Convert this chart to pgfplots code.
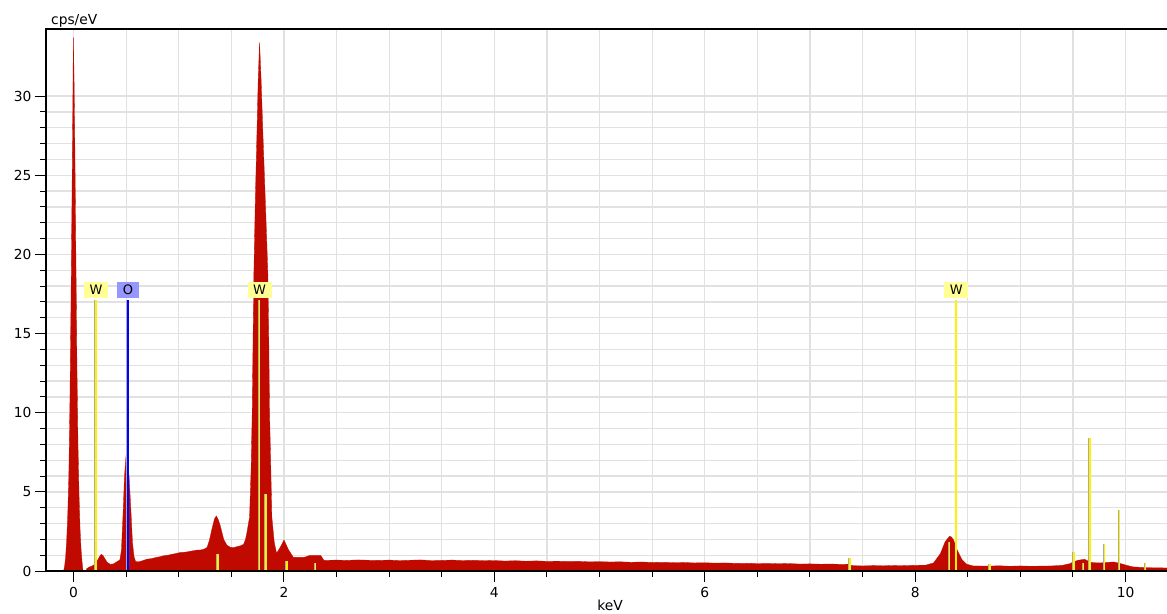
\documentclass[border=0pt]{standalone}
\usepackage{pgfplots}
\pgfplotsset{compat=1.18}
\usepackage{fontspec}
\setmainfont{DejaVu Sans}
\definecolor{specred}{RGB}{192,10,0}
\definecolor{gridgray}{RGB}{225,225,225}
\definecolor{wbox}{RGB}{255,255,150}
\definecolor{obox}{RGB}{150,150,255}
\definecolor{shadow}{RGB}{170,170,170}
\begin{document}
\begin{tikzpicture}
\path[use as bounding box, clip] (0,0) rectangle (1167pt,613pt);
\begin{axis}[
  at={(46pt,42pt)}, anchor=south west,
  scale only axis, width=1125pt, height=542pt,
  xmin=-0.262, xmax=10.432, ymin=0, ymax=34.24,
  xtick={0,2,4,6,8,10}, minor x tick num=3,
  ytick={0,5,10,15,20,25,30}, minor y tick num=4,
  tick pos=left, tick align=outside,
  major tick length=11pt, minor tick length=6pt,
  every tick/.style={black, line width=1pt},
  grid=both,
  major grid style={draw=gridgray, line width=1.3pt},
  minor grid style={draw=gridgray, line width=1.3pt},
  axis line style={black, line width=1.6pt},
  /pgf/number format/assume math mode=true,
  tick label style={font=\fontsize{13.8}{16}\selectfont},
  xticklabel style={yshift=-1.5pt},
  clip=false,
]
\addplot[fill=specred, draw=specred, line width=0.3pt] coordinates {
(-0.095,0) (-0.085,0.3) (-0.075,0.9) (-0.065,2.0) (-0.055,3.6) (-0.045,6.0)
(-0.035,10.5) (-0.025,16.5) (-0.015,23.5) (-0.007,29.5) (-0.002,33.7)
(0.004,31.5) (0.012,27) (0.022,20) (0.032,13) (0.042,8) (0.052,4.8)
(0.062,2.6) (0.072,1.3) (0.082,0.5) (0.09,0)
(0.118,0) (0.125,0.15) (0.15,0.25) (0.18,0.33) (0.2,0.42) (0.23,0.7)
(0.25,0.95) (0.263,1.05) (0.28,0.98) (0.3,0.75) (0.32,0.55) (0.35,0.42)
(0.38,0.45) (0.41,0.58) (0.44,0.7) (0.455,1.3) (0.472,3.85) (0.484,5.96)
(0.495,7.0) (0.501,7.4) (0.51,6.9) (0.528,5.96) (0.545,3.85) (0.56,1.8)
(0.575,0.9) (0.59,0.6) (0.62,0.58) (0.66,0.66) (0.70,0.75) (0.74,0.78)
(0.78,0.85) (0.82,0.9) (0.855,0.96) (0.9,1.0) (0.93,1.05) (0.97,1.1)
(1.014,1.17) (1.05,1.18) (1.09,1.22) (1.13,1.27) (1.173,1.32) (1.21,1.33)
(1.24,1.38) (1.268,1.48) (1.29,1.9) (1.315,2.64) (1.34,3.3) (1.357,3.48)
(1.375,3.25) (1.395,2.85) (1.427,2.0) (1.458,1.63) (1.49,1.5) (1.521,1.48)
(1.56,1.55) (1.59,1.6) (1.616,1.69) (1.635,2.0) (1.648,2.43) (1.66,2.9)
(1.673,3.4) (1.688,6.5) (1.698,10.0) (1.706,14.5) (1.714,18.8) (1.728,23.5)
(1.743,27.6) (1.755,31) (1.768,33.4) (1.783,31) (1.800,27.6) (1.825,23)
(1.847,18.8) (1.856,14.5) (1.863,10.0) (1.875,6.5) (1.885,3.4) (1.908,1.8)
(1.93,1.12) (1.965,1.5) (2.0,1.96) (2.044,1.33) (2.09,0.86) (2.19,0.86)
(2.24,0.97) (2.35,0.97) (2.38,0.67)
(2.5,0.69) (2.6,0.67) (2.7,0.70) (2.8,0.68) (2.9,0.67) (3.0,0.69) (3.1,0.66)
(3.2,0.68) (3.3,0.70) (3.4,0.66) (3.5,0.67) (3.6,0.69) (3.7,0.66) (3.8,0.68)
(3.9,0.65) (4.0,0.66) (4.1,0.63) (4.2,0.65) (4.3,0.62) (4.4,0.64) (4.5,0.61)
(4.6,0.62) (4.7,0.60) (4.8,0.61) (4.9,0.58) (5.0,0.59) (5.1,0.57) (5.2,0.58)
(5.3,0.55) (5.4,0.57) (5.5,0.54) (5.6,0.55) (5.7,0.53) (5.8,0.54) (5.9,0.51)
(6.0,0.52) (6.1,0.50) (6.2,0.51) (6.3,0.48) (6.4,0.49) (6.5,0.47) (6.6,0.48)
(6.7,0.46) (6.8,0.47) (6.9,0.44) (7.0,0.45) (7.1,0.43) (7.2,0.44) (7.3,0.42)
(7.36,0.43) (7.40,0.34) (7.5,0.32) (7.6,0.34) (7.7,0.33) (7.8,0.35) (7.9,0.34)
(8.0,0.36) (8.1,0.37) (8.175,0.51) (8.24,1.1) (8.285,1.85) (8.327,2.2)
(8.345,2.15) (8.365,1.96) (8.40,1.32) (8.445,0.72) (8.49,0.43) (8.55,0.32)
(8.7,0.31) (8.8,0.33) (8.9,0.30) (9.0,0.32) (9.1,0.30) (9.2,0.31) (9.3,0.32)
(9.4,0.36) (9.474,0.47) (9.5,0.57) (9.55,0.68) (9.61,0.74) (9.64,0.64)
(9.68,0.53) (9.76,0.51) (9.84,0.55) (9.886,0.57) (9.93,0.51) (10.01,0.36)
(10.07,0.26) (10.2,0.21) (10.3,0.20) (10.432,0.19)
} \closedcycle;
% element marker lines (grey edge + colour)
\addplot[ycomb, draw=shadow, line width=0.9pt, xshift=-1.2pt] coordinates {
(0.213,17.1) (0.517,17.1) (1.372,1.06) (1.768,17.1) (1.829,4.85) (2.028,0.63)
(2.30,0.48) (7.38,0.79) (8.327,1.85) (8.39,17.1) (8.71,0.45) (9.51,1.2)
(9.60,0.5) (9.66,8.4) (9.80,1.7) (9.94,3.85) (10.19,0.5)};
\addplot[ycomb, draw=yellow, line width=1.5pt] coordinates {
(0.213,17.1) (1.372,1.06) (1.768,17.1) (1.829,4.85) (2.028,0.63)
(2.30,0.48) (7.38,0.79) (8.327,1.85) (8.39,17.1) (8.71,0.45) (9.51,1.2)
(9.60,0.5) (9.66,8.4) (9.80,1.7) (9.94,3.85) (10.19,0.5)};
\addplot[ycomb, draw=blue, line width=1.5pt] coordinates {(0.517,17.1)};
\draw[black, line width=1.6pt] (rel axis cs:0,0) -- (rel axis cs:1,0);
\node[fill=wbox, inner sep=0pt, minimum width=24pt, minimum height=16pt, font=\fontsize{13}{15}\selectfont] at (axis cs:0.213,17.75) {W};
\node[fill=obox, inner sep=0pt, minimum width=22pt, minimum height=16pt, font=\fontsize{13}{15}\selectfont] at (axis cs:0.517,17.75) {O};
\node[fill=wbox, inner sep=0pt, minimum width=24pt, minimum height=16pt, font=\fontsize{13}{15}\selectfont] at (axis cs:1.768,17.75) {W};
\node[fill=wbox, inner sep=0pt, minimum width=24pt, minimum height=16pt, font=\fontsize{13}{15}\selectfont] at (axis cs:8.39,17.75) {W};
\end{axis}
\node[anchor=base west, inner sep=0pt, font=\fontsize{13.8}{16}\selectfont] at (51pt,588pt) {cps/eV};
\node[anchor=north, inner sep=0pt, font=\fontsize{13.8}{16}\selectfont] at (610pt,13.5pt) {keV};
\end{tikzpicture}
\end{document}
